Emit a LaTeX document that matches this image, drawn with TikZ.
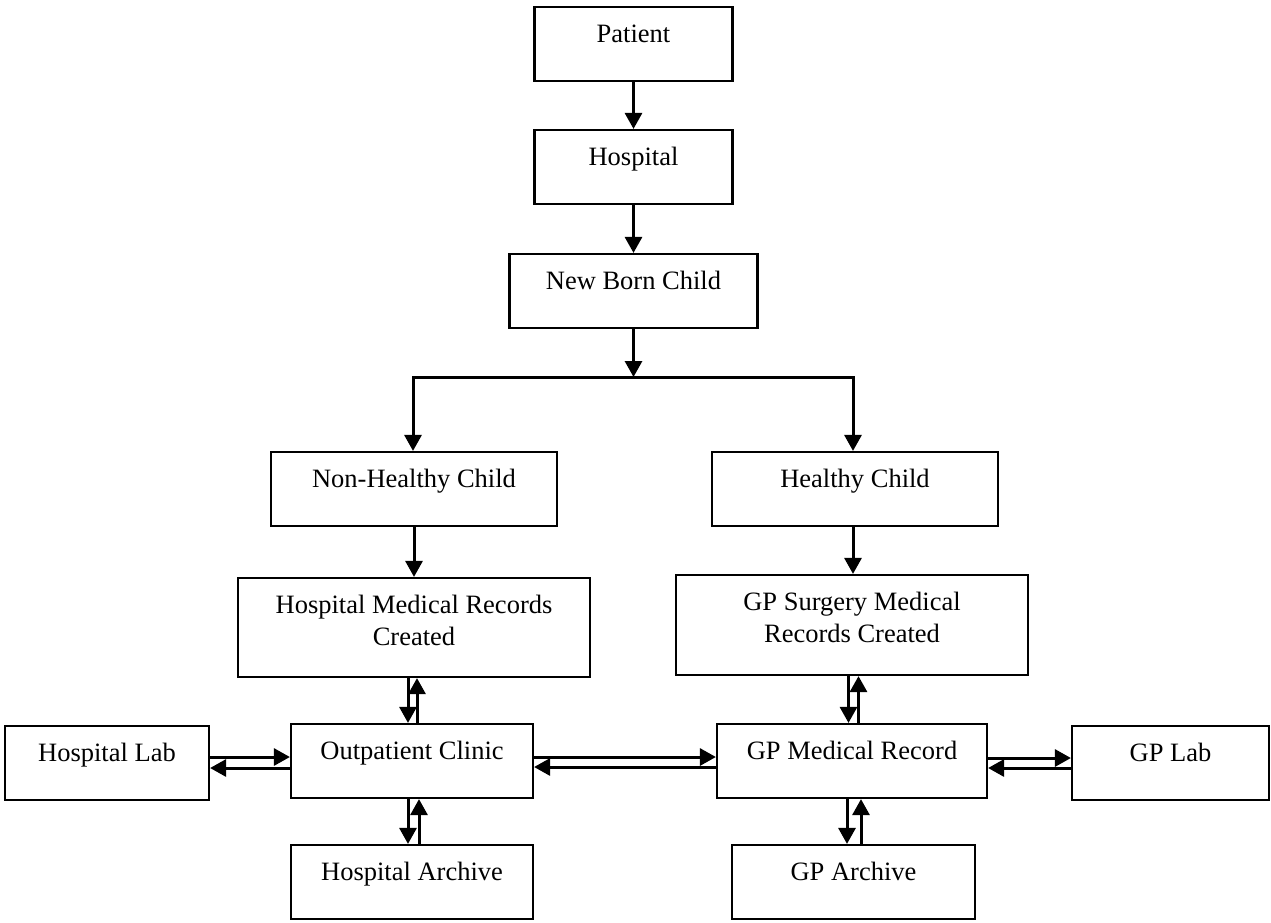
\documentclass[tikz,border=0pt]{standalone}
\usepackage{fontspec}
\setmainfont{Liberation Serif}
\usetikzlibrary{arrows.meta,calc}

\tikzset{
  box/.style={draw, line width=2.2pt, rectangle, inner sep=0pt},
  txt/.style={anchor=base, yshift=-37pt, align=center, inner sep=0pt,
    font=\fontsize{26.5}{32}\selectfont},
  txttwo/.style={txt, yshift=-32pt},
  arr/.style={line width=3pt, -{Triangle[length=16pt,width=17pt]}},
  plain/.style={line width=3pt},
}

\begin{document}
\begin{tikzpicture}[x=1pt,y=-1pt]
\useasboundingbox (0,0) rectangle (1271,922);

% top chain
\node[box, minimum width=198, minimum height=74, label={[txt]north:Patient}] (patient) at (633.5,44) {};
\node[box, minimum width=198, minimum height=74, label={[txt]north:Hospital}] (hospital) at (633.5,167) {};
\node[box, minimum width=248, minimum height=74, label={[txt]north:New Born Child}] (newborn) at (633.5,291) {};

% two branches
\node[box, minimum width=286, minimum height=74, label={[txt]north:Non-Healthy Child}] (nonhealthy) at (414,489) {};
\node[box, minimum width=286, minimum height=74, label={[txt]north:Healthy Child}] (healthy) at (855,489) {};
\node[box, minimum width=352, minimum height=99, label={[txttwo]north:Hospital Medical Records\\Created}] (hosprec) at (414,627.5) {};
\node[box, minimum width=352, minimum height=100, label={[txttwo]north:GP Surgery Medical\\Records Created}] (gprec) at (852,625) {};

% bottom row
\node[box, minimum width=204, minimum height=74, label={[txt]north:Hospital Lab}] (hosplab) at (107,763) {};
\node[box, minimum width=242, minimum height=74, label={[txt]north:Outpatient Clinic}] (clinic) at (412,761) {};
\node[box, minimum width=270, minimum height=74, label={[txt]north:GP Medical Record}] (gpmed) at (852,761) {};
\node[box, minimum width=197, minimum height=74, label={[txt]north:GP Lab}] (gplab) at (1170.5,763) {};
\node[box, minimum width=242, minimum height=74, label={[txt]north:Hospital Archive}] (hosparch) at (412,882) {};
\node[box, minimum width=243, minimum height=74, label={[txt]north:GP Archive}] (gparch) at (853.5,882) {};

% main flow
\draw[arr] (patient) -- (hospital);
\draw[arr] (hospital) -- (newborn);
\coordinate (split) at (633.5,377);
\draw[arr] (newborn.south) -- (split);
\draw[plain] ([xshift=-1.5pt]nonhealthy.north |- split) -- ([xshift=-1pt]healthy.north |- split);
\draw[arr] (split) -| ([xshift=-1pt]nonhealthy.north);
\draw[arr] (split) -| ([xshift=-2pt]healthy.north);
\draw[arr] (nonhealthy.south) -- (nonhealthy.south |- hosprec.north);
\draw[arr] ([xshift=-2pt]healthy.south) -- ([xshift=-2pt]healthy.south |- gprec.north);

% record <-> clinic / GP record
\coordinate (c1) at ($(clinic.north)+(-4pt,0)$);
\coordinate (c2) at ($(clinic.north)+(5pt,0)$);
\draw[arr] (hosprec.south -| c1) -- (c1);
\draw[arr] (c2) -- (hosprec.south -| c2);
\coordinate (g1) at ($(gpmed.north)+(-3.5pt,0)$);
\coordinate (g2) at ($(gpmed.north)+(6.5pt,0)$);
\draw[arr] (gprec.south -| g1) -- (g1);
\draw[arr] (g2) -- (gprec.south -| g2);

% archives
\coordinate (a1) at ($(clinic.south)+(-4pt,0)$);
\coordinate (a2) at ($(clinic.south)+(7pt,0)$);
\draw[arr] (a1) -- (hosparch.north -| a1);
\draw[arr] (hosparch.north -| a2) -- (a2);
\coordinate (b1) at ($(gpmed.south)+(-5pt,0)$);
\coordinate (b2) at ($(gpmed.south)+(9pt,0)$);
\draw[arr] (b1) -- (gparch.north -| b1);
\draw[arr] (gparch.north -| b2) -- (b2);

% horizontal exchanges
\coordinate (h1) at ($(clinic.west)+(0,4pt)$);
\coordinate (h2) at ($(clinic.west)+(0,-7pt)$);
\draw[arr] (hosplab.east |- h1) -- (h1);
\draw[arr] (h2) -- (hosplab.east |- h2);
\coordinate (m1) at ($(gpmed.west)+(0,4pt)$);
\coordinate (m2) at ($(gpmed.west)+(0,-6pt)$);
\draw[arr] (clinic.east |- m1) -- (m1);
\draw[arr] (m2) -- (clinic.east |- m2);
\coordinate (l1) at ($(gplab.west)+(0,5pt)$);
\coordinate (l2) at ($(gplab.west)+(0,-5pt)$);
\draw[arr] (gpmed.east |- l1) -- (l1);
\draw[arr] (l2) -- (gpmed.east |- l2);
\end{tikzpicture}
\end{document}
